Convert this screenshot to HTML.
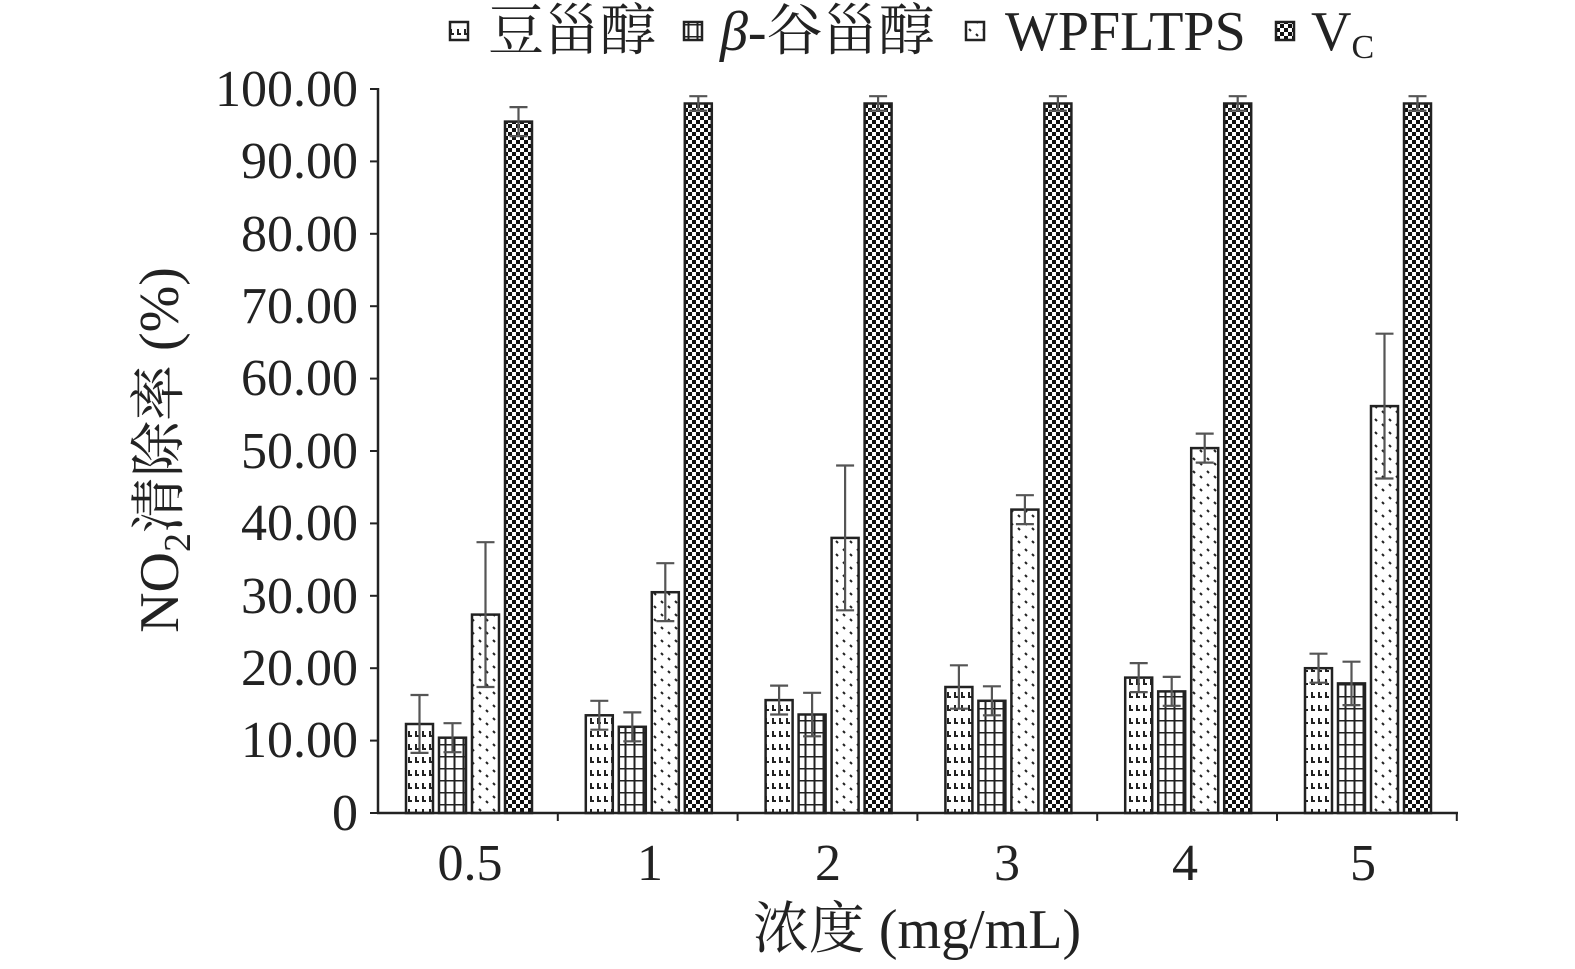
<!DOCTYPE html>
<html><head><meta charset="utf-8"><style>
html,body{margin:0;padding:0;background:#fff;overflow:hidden;width:1575px;height:969px;}
svg{display:block;}
text{font-family:"Liberation Serif","Noto Serif CJK SC",serif;fill:#222;}
</style></head><body>
<svg width="1575" height="969" viewBox="0 0 1575 969" xmlns="http://www.w3.org/2000/svg">
<defs>
<pattern id="p1" width="14" height="13" patternUnits="userSpaceOnUse">
<rect width="14" height="13" fill="#fff"/>
<path d="M3 3v5h3M10 3v5h3" stroke="#222" stroke-width="2" fill="none"/>
</pattern>
<pattern id="p2" width="9" height="12" patternUnits="userSpaceOnUse">
<rect width="9" height="12" fill="#fff"/>
<path d="M0 0.5h9M4.5 0v12" stroke="#222" stroke-width="2" fill="none"/>
</pattern>
<pattern id="p3" width="14" height="13" patternUnits="userSpaceOnUse">
<rect width="14" height="13" fill="#fff"/>
<path d="M3 3l2 2M10 8l2 2" stroke="#222" stroke-width="2" fill="none"/>
</pattern>
<pattern id="p4" width="8" height="8" patternUnits="userSpaceOnUse">
<rect width="8" height="8" fill="#fff"/>
<rect width="4" height="4" fill="#111"/><rect x="4" y="4" width="4" height="4" fill="#111"/>
</pattern>
</defs>
<g stroke="#222" stroke-width="2.5">
<rect x="406" y="724" width="27" height="89" fill="url(#p1)"/>
<rect x="439" y="737.7" width="27" height="75.3" fill="url(#p2)"/>
<rect x="472" y="614.6" width="27" height="198.4" fill="url(#p3)"/>
<rect x="505" y="121.6" width="27" height="691.4" fill="url(#p4)"/>
<rect x="585.8" y="715.3" width="27" height="97.7" fill="url(#p1)"/>
<rect x="618.8" y="726.8" width="27" height="86.2" fill="url(#p2)"/>
<rect x="651.8" y="592.2" width="27" height="220.8" fill="url(#p3)"/>
<rect x="684.8" y="103.5" width="27" height="709.5" fill="url(#p4)"/>
<rect x="765.6" y="700.1" width="27" height="112.9" fill="url(#p1)"/>
<rect x="798.6" y="714.5" width="27" height="98.5" fill="url(#p2)"/>
<rect x="831.6" y="537.9" width="27" height="275.1" fill="url(#p3)"/>
<rect x="864.6" y="103.5" width="27" height="709.5" fill="url(#p4)"/>
<rect x="945.4" y="687" width="27" height="126" fill="url(#p1)"/>
<rect x="978.4" y="700.8" width="27" height="112.2" fill="url(#p2)"/>
<rect x="1011.4" y="509.6" width="27" height="303.4" fill="url(#p3)"/>
<rect x="1044.4" y="103.5" width="27" height="709.5" fill="url(#p4)"/>
<rect x="1125.2" y="677.6" width="27" height="135.4" fill="url(#p1)"/>
<rect x="1158.2" y="691.4" width="27" height="121.6" fill="url(#p2)"/>
<rect x="1191.2" y="448.1" width="27" height="364.9" fill="url(#p3)"/>
<rect x="1224.2" y="103.5" width="27" height="709.5" fill="url(#p4)"/>
<rect x="1305" y="668.2" width="27" height="144.8" fill="url(#p1)"/>
<rect x="1338" y="683.4" width="27" height="129.6" fill="url(#p2)"/>
<rect x="1371" y="406.1" width="27" height="406.9" fill="url(#p3)"/>
<rect x="1404" y="103.5" width="27" height="709.5" fill="url(#p4)"/>
</g>
<g stroke="#555" stroke-width="2.2" fill="none">
<path d="M419.5 695V752.9M410.5 695h18M410.5 752.9h18"/>
<path d="M452.5 723.2V752.2M443.5 723.2h18M443.5 752.2h18"/>
<path d="M485.5 542.2V687M476.5 542.2h18M476.5 687h18"/>
<path d="M518.5 107.1V136.1M509.5 107.1h18M509.5 136.1h18"/>
<path d="M599.3 700.8V729.7M590.3 700.8h18M590.3 729.7h18"/>
<path d="M632.3 712.4V741.3M623.3 712.4h18M623.3 741.3h18"/>
<path d="M665.3 563.2V621.1M656.3 563.2h18M656.3 621.1h18"/>
<path d="M698.3 96.2V110.7M689.3 96.2h18M689.3 110.7h18"/>
<path d="M779.1 685.6V714.5M770.1 685.6h18M770.1 714.5h18"/>
<path d="M812.1 692.8V736.3M803.1 692.8h18M803.1 736.3h18"/>
<path d="M845.1 465.5V610.3M836.1 465.5h18M836.1 610.3h18"/>
<path d="M878.1 96.2V110.7M869.1 96.2h18M869.1 110.7h18"/>
<path d="M958.9 665.3V708.7M949.9 665.3h18M949.9 708.7h18"/>
<path d="M991.9 686.3V715.3M982.9 686.3h18M982.9 715.3h18"/>
<path d="M1024.9 495.2V524.1M1015.9 495.2h18M1015.9 524.1h18"/>
<path d="M1057.9 96.2V110.7M1048.9 96.2h18M1048.9 110.7h18"/>
<path d="M1138.7 663.1V692.1M1129.7 663.1h18M1129.7 692.1h18"/>
<path d="M1171.7 676.9V705.8M1162.7 676.9h18M1162.7 705.8h18"/>
<path d="M1204.7 433.6V462.6M1195.7 433.6h18M1195.7 462.6h18"/>
<path d="M1237.7 96.2V110.7M1228.7 96.2h18M1228.7 110.7h18"/>
<path d="M1318.5 653.7V682.7M1309.5 653.7h18M1309.5 682.7h18"/>
<path d="M1351.5 661.7V705.1M1342.5 661.7h18M1342.5 705.1h18"/>
<path d="M1384.5 333.7V478.5M1375.5 333.7h18M1375.5 478.5h18"/>
<path d="M1417.5 96.2V110.7M1408.5 96.2h18M1408.5 110.7h18"/>
</g>
<line x1="378" y1="88" x2="378" y2="813" stroke="#222" stroke-width="2.5"/>
<line x1="377" y1="813" x2="1458" y2="813" stroke="#222" stroke-width="2.5"/>
<g stroke="#222" stroke-width="2">
<line x1="370" y1="89" x2="378" y2="89"/><line x1="370" y1="161.4" x2="378" y2="161.4"/><line x1="370" y1="233.8" x2="378" y2="233.8"/><line x1="370" y1="306.2" x2="378" y2="306.2"/><line x1="370" y1="378.6" x2="378" y2="378.6"/><line x1="370" y1="451" x2="378" y2="451"/><line x1="370" y1="523.4" x2="378" y2="523.4"/><line x1="370" y1="595.8" x2="378" y2="595.8"/><line x1="370" y1="668.2" x2="378" y2="668.2"/><line x1="370" y1="740.6" x2="378" y2="740.6"/><line x1="370" y1="813" x2="378" y2="813"/>
<line x1="557.8" y1="813" x2="557.8" y2="821"/><line x1="737.6" y1="813" x2="737.6" y2="821"/><line x1="917.4" y1="813" x2="917.4" y2="821"/><line x1="1097.2" y1="813" x2="1097.2" y2="821"/><line x1="1277" y1="813" x2="1277" y2="821"/><line x1="1456.8" y1="813" x2="1456.8" y2="821"/>
</g>
<g font-size="52" text-anchor="end">
<text x="358" y="106">100.00</text><text x="358" y="178">90.00</text><text x="358" y="251">80.00</text><text x="358" y="323">70.00</text><text x="358" y="395">60.00</text><text x="358" y="468">50.00</text><text x="358" y="540">40.00</text><text x="358" y="613">30.00</text><text x="358" y="685">20.00</text><text x="358" y="757">10.00</text><text x="358" y="830">0</text>
</g>
<g font-size="52" text-anchor="middle">
<text x="470" y="880">0.5</text><text x="650" y="880">1</text><text x="828" y="880">2</text><text x="1007" y="880">3</text><text x="1185" y="880">4</text><text x="1363" y="880">5</text>
</g>
<text x="917" y="948" font-size="56" text-anchor="middle">浓度 (mg/mL)</text>
<text font-size="56" transform="translate(178,450) rotate(-90)" text-anchor="middle">NO<tspan font-size="38" dy="12">2</tspan><tspan dy="-12">清除率 (%)</tspan></text>
<g stroke="#222" stroke-width="2.5">
<rect x="450" y="22" width="18" height="18" fill="url(#p1)"/>
<rect x="684" y="22" width="18" height="18" fill="url(#p2)"/>
<rect x="966" y="22" width="18" height="18" fill="url(#p3)"/>
<rect x="1276" y="22" width="18" height="18" fill="url(#p4)"/>
</g>
<g font-size="56">
<text x="488" y="50">豆甾醇</text>
<text x="720" y="50"><tspan font-style="italic">β</tspan>-谷甾醇</text>
<text x="1005" y="50">WPFLTPS</text>
<text x="1311" y="50">V<tspan font-size="34" dy="8">C</tspan></text>
</g>
</svg>
</body></html>
